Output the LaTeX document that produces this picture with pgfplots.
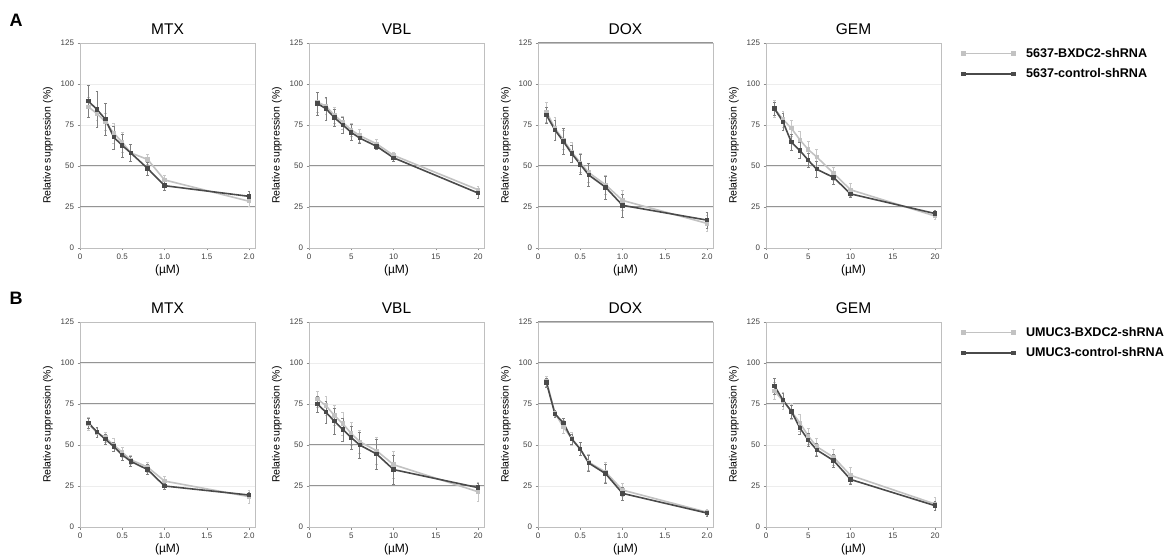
\documentclass[border=0pt]{standalone}
\usepackage{fontspec}
\setmainfont{Liberation Sans}
\usepackage{pgfplots}
\pgfplotsset{compat=1.18}

\definecolor{darkser}{HTML}{4A4A4A}
\definecolor{lightser}{HTML}{C2C2C2}

\pgfplotsset{
  panel/.style={
    scale only axis, width=175bp, height=205bp,
    ymin=0, ymax=125, ytick={0,25,...,125},
    ymajorgrids, grid style={black!7, line width=0.7bp},
    axis line style={black!25, line width=0.8bp},
    xtick pos=bottom, ytick pos=left, tick align=outside,
    major tick length=2.5bp, tick style={black!45, line width=0.5bp},
    ticklabel style={font=\fontsize{8bp}{9bp}\selectfont, text=black!75},
    /pgf/number format/assume math mode=true,
    ylabel={Relative suppression (\%)},
    xlabel={(µM)},
    ylabel style={at={(axis description cs:-0.183,0.5)}, anchor=center,
      font=\fontsize{10.5bp}{12bp}\selectfont},
    xlabel style={at={(axis description cs:0.5,0)}, anchor=center, yshift=-22bp,
      font=\fontsize{12bp}{14bp}\selectfont},
    title style={at={(axis description cs:0.5,1)}, anchor=center, yshift=8bp,
      font=\fontsize{15.5bp}{17bp}\selectfont},
    extra y tick labels={},
    extra y tick style={grid style={black!42, line width=1bp}, major tick length=0pt},
    clip=false,
  },
  lowdose/.style={xmin=0, xmax=2.07, xtick={0,0.5,1,1.5,2},
    xticklabels={0,0.5,1.0,1.5,2.0}},
  highdose/.style={xmin=0, xmax=20.7, xtick={0,5,10,15,20}},
  bxdc/.style={color=lightser, line width=1.6bp, mark=square*, mark size=1.4bp,
    mark options={fill=lightser},
    error bars/.cd, y dir=both, y explicit,
    error bar style={line width=0.5bp, color=black!22}},
  ctrl/.style={color=darkser, line width=1.6bp, mark=square*, mark size=1.4bp,
    mark options={fill=darkser},
    error bars/.cd, y dir=both, y explicit,
    error bar style={line width=0.5bp, color=black!50}},
  keybox/.style={
    legend style={at={(axis description cs:1,1)}, anchor=north west,
      xshift=21bp, yshift=-3bp, draw=none, fill=none, inner sep=0pt,
      row sep=6bp, font=\bfseries\fontsize{12.6bp}{14bp}\selectfont,
      /tikz/every odd column/.append style={column sep=9bp}},
    legend cell align=left,
    legend image code/.code={
      \draw[mark repeat=1,##1,line width=1.6bp] plot coordinates {(0bp,0bp) (50bp,0bp)};},
  },
}

\begin{document}
\begin{tikzpicture}
\path[use as bounding box] (0,0) rectangle (1166bp,558bp);
\node[font=\bfseries\fontsize{18bp}{20bp}\selectfont] at (16bp,538bp) {A};
\node[font=\bfseries\fontsize{18bp}{20bp}\selectfont] at (16bp,260bp) {B};

% ---- row A: 5637 ----
\begin{axis}[panel, lowdose, at={(80bp,310bp)}, anchor=south west,
  title={MTX}, extra y ticks={25,50}]
\addplot+[bxdc] coordinates {(0.1,86) +- (0,6) (0.2,82) +- (0,4) (0.3,77) +- (0,5)
  (0.4,70) +- (0,6) (0.5,64.5) +- (0,6) (0.6,58) +- (0,5) (0.8,54) +- (0,3)
  (1,41.5) +- (0,3) (2,28.5) +- (0,3)};
\addplot+[ctrl] coordinates {(0.1,89.5) +- (0,10) (0.2,84.5) +- (0,11) (0.3,78.5) +- (0,10)
  (0.4,67.5) +- (0,7) (0.5,62.5) +- (0,7) (0.6,58) +- (0,5) (0.8,48.5) +- (0,4)
  (1,38) +- (0,3) (2,31.5) +- (0,3)};
\end{axis}

\begin{axis}[panel, highdose, at={(309bp,310bp)}, anchor=south west,
  title={VBL}, extra y ticks={25,50}]
\addplot+[bxdc] coordinates {(1,89) +- (0,6) (2,86.5) +- (0,5) (3,81) +- (0,5)
  (4,76.5) +- (0,4) (5,72) +- (0,4) (6,68.5) +- (0,4) (8,63.5) +- (0,3)
  (10,56.5) +- (0,2) (20,35.5) +- (0,2)};
\addplot+[ctrl] coordinates {(1,88) +- (0,7) (2,85) +- (0,7) (3,79.5) +- (0,5)
  (4,75) +- (0,5) (5,70.5) +- (0,5) (6,67) +- (0,3) (8,62) +- (0,2)
  (10,55) +- (0,2) (20,33.5) +- (0,3)};
\end{axis}

\begin{axis}[panel, lowdose, at={(538bp,310bp)}, anchor=south west,
  title={DOX}, extra y ticks={25,50,125}]
\addplot+[bxdc] coordinates {(0.1,83) +- (0,6) (0.2,73) +- (0,7) (0.3,66) +- (0,6)
  (0.4,58.5) +- (0,6) (0.5,52) +- (0,6) (0.6,46) +- (0,6) (0.8,38.5) +- (0,6)
  (1,29) +- (0,6) (2,15) +- (0,5)};
\addplot+[ctrl] coordinates {(0.1,81) +- (0,5) (0.2,72) +- (0,6) (0.3,65) +- (0,8)
  (0.4,57.5) +- (0,5) (0.5,51) +- (0,6) (0.6,44.5) +- (0,7) (0.8,37) +- (0,7)
  (1,26) +- (0,7) (2,17) +- (0,5)};
\end{axis}

\begin{axis}[panel, highdose, keybox, at={(766bp,310bp)}, anchor=south west,
  title={GEM}, extra y ticks={25,50}]
\addplot+[bxdc] coordinates {(1,85) +- (0,5) (2,78.5) +- (0,5) (3,73) +- (0,5)
  (4,66) +- (0,5) (5,60) +- (0,5) (6,55.5) +- (0,5) (8,45.5) +- (0,4)
  (10,35.5) +- (0,4) (20,19.5) +- (0,2)};
\addlegendentry{5637-BXDC2-shRNA}
\addplot+[ctrl] coordinates {(1,85) +- (0,4) (2,77) +- (0,5) (3,64.5) +- (0,5)
  (4,59.5) +- (0,5) (5,53.5) +- (0,4) (6,48) +- (0,5) (8,43) +- (0,4)
  (10,33) +- (0,2) (20,21) +- (0,2)};
\addlegendentry{5637-control-shRNA}
\end{axis}

% ---- row B: UMUC3 ----
\begin{axis}[panel, lowdose, at={(80bp,31bp)}, anchor=south west,
  title={MTX}, extra y ticks={75,100}]
\addplot+[bxdc] coordinates {(0.1,63) +- (0,4) (0.2,57.5) +- (0,3) (0.3,54.5) +- (0,3)
  (0.4,50) +- (0,4) (0.5,45.5) +- (0,3) (0.6,41) +- (0,3) (0.8,36.5) +- (0,3)
  (1,28) +- (0,3) (2,18.5) +- (0,4)};
\addplot+[ctrl] coordinates {(0.1,63.5) +- (0,3) (0.2,58) +- (0,3) (0.3,53.5) +- (0,3)
  (0.4,49) +- (0,3) (0.5,44) +- (0,3) (0.6,40) +- (0,3) (0.8,35) +- (0,3)
  (1,25) +- (0,2) (2,19.5) +- (0,2)};
\end{axis}

\begin{axis}[panel, highdose, at={(309bp,31bp)}, anchor=south west,
  title={VBL}, extra y ticks={25,50}]
\addplot+[bxdc] coordinates {(1,78) +- (0,5) (2,74) +- (0,6) (3,68) +- (0,6)
  (4,63) +- (0,7) (5,57) +- (0,7) (6,52) +- (0,7) (8,46.5) +- (0,8)
  (10,38) +- (0,8) (20,21.5) +- (0,6)};
\addplot+[ctrl] coordinates {(1,75) +- (0,5) (2,70) +- (0,7) (3,64.5) +- (0,8)
  (4,59.5) +- (0,7) (5,54.5) +- (0,7) (6,50) +- (0,8) (8,44.5) +- (0,9)
  (10,35) +- (0,9) (20,24) +- (0,3)};
\end{axis}

\begin{axis}[panel, lowdose, at={(538bp,31bp)}, anchor=south west,
  title={DOX}, extra y ticks={75,100,125}]
\addplot+[bxdc] coordinates {(0.1,89) +- (0,3) (0.2,69.5) +- (0,2) (0.3,61) +- (0,4)
  (0.4,54) +- (0,4) (0.5,47.5) +- (0,4) (0.6,39.5) +- (0,5) (0.8,33.5) +- (0,6)
  (1,22.5) +- (0,4) (2,9) +- (0,2)};
\addplot+[ctrl] coordinates {(0.1,88) +- (0,3) (0.2,69) +- (0,2) (0.3,63.5) +- (0,3)
  (0.4,53.5) +- (0,3) (0.5,47.5) +- (0,4) (0.6,39) +- (0,5) (0.8,32.5) +- (0,6)
  (1,20.5) +- (0,4) (2,8.5) +- (0,2)};
\end{axis}

\begin{axis}[panel, highdose, keybox, at={(766bp,31bp)}, anchor=south west,
  title={GEM}, extra y ticks={75,100}]
\addplot+[bxdc] coordinates {(1,83) +- (0,5) (2,77) +- (0,5) (3,70.5) +- (0,5)
  (4,63.5) +- (0,5) (5,55.5) +- (0,5) (6,49) +- (0,5) (8,42.5) +- (0,5)
  (10,31.5) +- (0,5) (20,14) +- (0,4)};
\addlegendentry{UMUC3-BXDC2-shRNA}
\addplot+[ctrl] coordinates {(1,86) +- (0,5) (2,77.5) +- (0,4) (3,70.5) +- (0,4)
  (4,60.5) +- (0,4) (5,53) +- (0,4) (6,47) +- (0,4) (8,40.5) +- (0,4)
  (10,29) +- (0,3) (20,13) +- (0,3)};
\addlegendentry{UMUC3-control-shRNA}
\end{axis}
\end{tikzpicture}
\end{document}
